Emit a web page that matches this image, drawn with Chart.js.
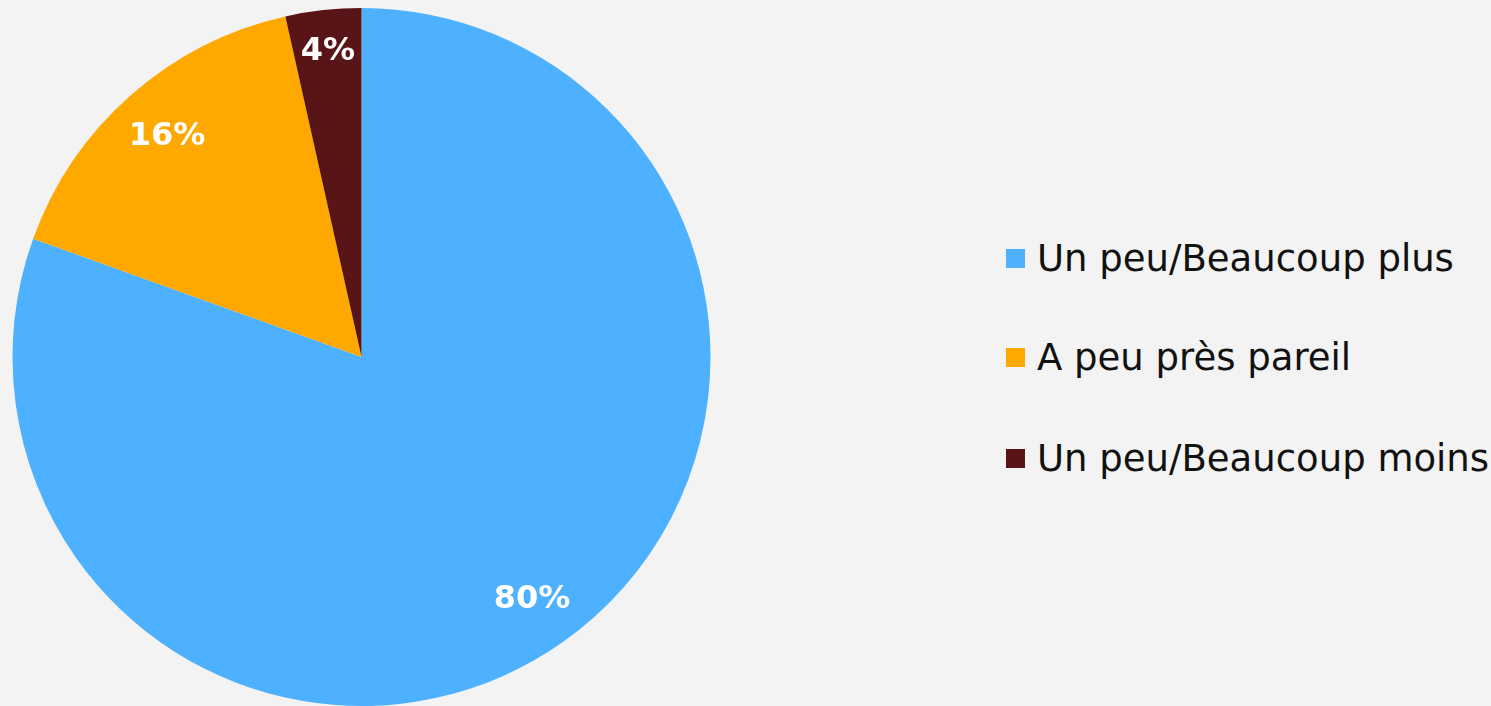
<!DOCTYPE html>
<html>
<head>
<meta charset="utf-8">
<script src="https://cdn.jsdelivr.net/npm/chart.js@4.4.1/dist/chart.umd.min.js"></script>
<style>
  html, body { margin:0; padding:0; width:1491px; height:706px; overflow:hidden; background:#f3f3f3; }
  #wrap { position:absolute; left:0; top:0; width:711px; height:706px; }
  #legend { position:absolute; left:1006px; top:0; font-family:"DejaVu Sans", sans-serif; color:#111; }
  .item { position:absolute; left:0; white-space:nowrap; height:40px; line-height:40px; }
  .box { position:absolute; left:0; top:10px; width:19px; height:19px; }
  .txt { position:absolute; left:31px; top:0; font-size:37px; }
</style>
</head>
<body>
<div id="wrap"><canvas id="c"></canvas></div>
<div id="legend"></div>
<script>
const categories = ["Un peu/Beaucoup plus", "A peu près pareil", "Un peu/Beaucoup moins"];
const values = [80.5, 16.0, 3.5];
const valueLabels = ["80%", "16%", "4%"];
const colors = ["#4DB1FF", "#FFA800", "#591417"];
const labelRadius = [0.85, 0.843, 0.88];

const legendTops = [239, 338, 439];
const legend = document.getElementById('legend');
categories.forEach((cat, i) => {
  const it = document.createElement('div');
  it.className = 'item';
  it.style.top = legendTops[i] + 'px';
  const b = document.createElement('div'); b.className = 'box'; b.style.background = colors[i];
  const t = document.createElement('div'); t.className = 'txt'; t.textContent = cat;
  it.appendChild(b); it.appendChild(t); legend.appendChild(it);
});

const pctPlugin = {
  id: 'pct',
  afterDatasetsDraw(chart) {
    const ctx = chart.ctx;
    const meta = chart.getDatasetMeta(0);
    ctx.save();
    ctx.fillStyle = '#ffffff';
    ctx.font = 'bold 32px "DejaVu Sans", sans-serif';
    ctx.textAlign = 'center';
    ctx.textBaseline = 'middle';
    meta.data.forEach((arc, i) => {
      const p = arc.getProps(['x','y','startAngle','endAngle','outerRadius'], true);
      const mid = (p.startAngle + p.endAngle) / 2;
      const r = p.outerRadius * labelRadius[i];
      ctx.fillText(valueLabels[i], p.x + Math.cos(mid) * r, p.y + Math.sin(mid) * r);
    });
    ctx.restore();
  }
};

new Chart(document.getElementById('c'), {
  type: 'pie',
  data: {
    labels: categories,
    datasets: [{ data: values, backgroundColor: colors, borderWidth: 0 }]
  },
  options: {
    responsive: true,
    maintainAspectRatio: false,
    animation: false,
    layout: { padding: { left: 12, top: 8, right: 0, bottom: 0 } },
    plugins: { legend: { display: false }, tooltip: { enabled: false } }
  },
  plugins: [pctPlugin]
});
</script>
</body>
</html>
